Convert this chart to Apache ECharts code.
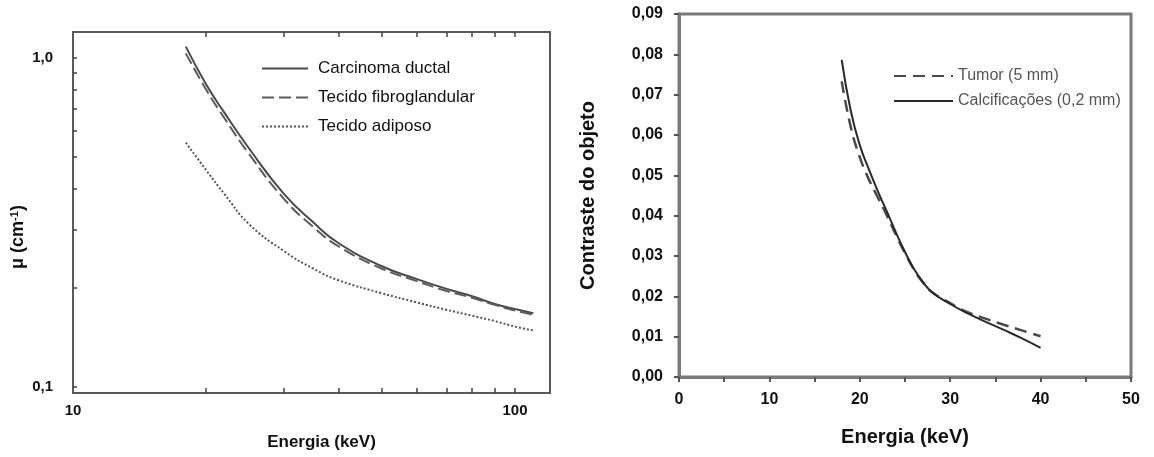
<!DOCTYPE html>
<html>
<head>
<meta charset="utf-8">
<script src="https://cdn.jsdelivr.net/npm/echarts@6/dist/echarts.min.js"></script>
<style>
  html, body { margin: 0; padding: 0; background: #fff; }
  #chart { width: 1154px; height: 457px; }
</style>
</head>
<body>
<div id="chart"></div>
<script>
// grafico da esquerda: coeficiente de atenuacao (escala log)
const energiaEsq = [18, 20, 22, 25, 30, 35, 40, 50, 60, 70, 80, 90, 100, 110];
const carcinoma = [1.08, 0.83, 0.68, 0.53, 0.385, 0.315, 0.272, 0.232, 0.212, 0.198, 0.188, 0.178, 0.172, 0.167];
const fibroglandular = [1.03, 0.80, 0.655, 0.51, 0.372, 0.305, 0.266, 0.228, 0.209, 0.195, 0.186, 0.177, 0.170, 0.165];
const adiposo = [0.551, 0.455, 0.385, 0.312, 0.258, 0.228, 0.210, 0.192, 0.180, 0.171, 0.164, 0.158, 0.152, 0.148];
const muLabels = [0.1, 1];
const muTicks = [0.1, 0.2, 0.3, 0.4, 0.5, 0.6, 0.7, 0.8, 0.9, 1];
const energiaLabelsEsq = [10, 100];
const energiaTicksEsq = [20, 30, 40, 50, 60, 70, 80, 90, 100];

// grafico da direita: contraste do objeto
const energiaDir = [18, 19, 20, 21, 22, 23, 24, 25, 26, 27, 28, 30, 32, 34, 36, 38, 40];
const tumor = [0.0733, 0.062, 0.0545, 0.049, 0.0445, 0.040, 0.0352, 0.0307, 0.0266, 0.0234, 0.021, 0.0183, 0.0160, 0.0144, 0.0129, 0.0115, 0.0101];
const calcificacoes = [0.0786, 0.066, 0.0575, 0.0515, 0.046, 0.041, 0.0358, 0.031, 0.0268, 0.0235, 0.021, 0.0181, 0.0157, 0.0136, 0.0116, 0.0095, 0.0072];

const pares = (xs, ys) => xs.map((x, i) => [x, ys[i]]);
const fontFam = '"Liberation Sans", Arial, sans-serif';

const option = {
  backgroundColor: '#fff',
  animation: false,
  textStyle: { fontFamily: fontFam },
  legend: [{
    orient: 'vertical',
    left: 256,
    top: 55,
    itemWidth: 46,
    itemHeight: 14,
    itemGap: 12,
    itemStyle: { opacity: 0 },
    textStyle: { fontSize: 17, color: '#111', padding: [0, 0, 0, 5] },
    data: ['Carcinoma ductal', 'Tecido fibroglandular', 'Tecido adiposo']
  }, {
    orient: 'vertical',
    left: 888,
    top: 63,
    itemWidth: 59,
    itemHeight: 14,
    itemGap: 9,
    itemStyle: { opacity: 0 },
    textStyle: { fontSize: 16, color: '#555' },
    data: ['Tumor (5 mm)', 'Calcificações (0,2 mm)']
  }],
  grid: [{
    left: 73, right: 604, top: 32, bottom: 64,
    show: true, borderColor: '#5a5a5a', borderWidth: 2,
    outerBoundsMode: 'none'
  }, {
    left: 679, right: 23, top: 14, bottom: 80,
    show: true, borderColor: '#7a7a7a', borderWidth: 3,
    outerBoundsMode: 'none'
  }],
  xAxis: [{
    gridIndex: 0,
    type: 'log',
    min: 10, max: 120,
    name: 'Energia (keV)',
    nameLocation: 'middle',
    nameGap: 41,
    nameTextStyle: { fontSize: 17, fontWeight: 'bold', color: '#111', padding: [0, 0, 0, 20] },
    axisLine: { lineStyle: { color: '#5a5a5a', width: 2 } },
    axisTick: { inside: true, length: 5, customValues: energiaTicksEsq, lineStyle: { color: '#444', width: 1.5 } },
    axisLabel: {
      customValues: energiaLabelsEsq, margin: 10,
      fontSize: 15, fontWeight: 'bold', color: '#111'
    },
    splitLine: { show: false }
  }, {
    gridIndex: 0,
    type: 'log',
    position: 'top',
    min: 10, max: 120,
    axisLine: { show: false },
    axisTick: { inside: true, length: 5, customValues: energiaTicksEsq, lineStyle: { color: '#444', width: 1.5 } },
    axisLabel: { show: false },
    splitLine: { show: false }
  }, {
    gridIndex: 1,
    type: 'value',
    min: 0, max: 50, interval: 10,
    name: 'Energia (keV)',
    nameLocation: 'middle',
    nameGap: 50,
    nameTextStyle: { fontSize: 20, fontWeight: 'bold', color: '#111' },
    axisLine: { lineStyle: { color: '#7a7a7a', width: 3 } },
    axisTick: { length: 5, lineStyle: { color: '#555', width: 2 } },
    minorTick: { show: true, splitNumber: 2, length: 5, lineStyle: { color: '#555', width: 2 } },
    axisLabel: { margin: 15, fontSize: 16, fontWeight: 'bold', color: '#111' },
    splitLine: { show: false }
  }],
  yAxis: [{
    gridIndex: 0,
    type: 'log',
    min: 0.0955, max: 1.196,
    name: '{a|μ (cm}{s|-1}{a|)}',
    nameLocation: 'middle',
    nameGap: 45,
    nameTextStyle: {
      padding: [0, 49, 0, 0],
      rich: {
        a: { fontSize: 18, fontWeight: 'bold', color: '#111' },
        s: { fontSize: 11, fontWeight: 'bold', color: '#111', padding: [0, 0, 8, 0] }
      }
    },
    axisLine: { lineStyle: { color: '#5a5a5a', width: 2 } },
    axisTick: { inside: true, length: 4, customValues: muTicks, lineStyle: { color: '#444', width: 1.5 } },
    axisLabel: {
      customValues: muLabels, margin: 20,
      fontSize: 15, fontWeight: 'bold', color: '#111',
      formatter: v => v.toFixed(1).replace('.', ',')
    },
    splitLine: { show: false }
  }, {
    gridIndex: 1,
    type: 'value',
    min: 0, max: 0.09, interval: 0.01,
    name: 'Contraste do objeto',
    nameLocation: 'middle',
    nameGap: 81,
    nameTextStyle: { fontSize: 20, fontWeight: 'bold', color: '#111' },
    axisLine: { lineStyle: { color: '#7a7a7a', width: 3 } },
    axisTick: { length: 5, lineStyle: { color: '#555', width: 2 } },
    axisLabel: {
      margin: 16, fontSize: 16, fontWeight: 'bold', color: '#111',
      formatter: v => v.toFixed(2).replace('.', ',')
    },
    splitLine: { show: false }
  }],
  series: [{
    name: 'Carcinoma ductal',
    type: 'line', xAxisIndex: 0, yAxisIndex: 0,
    smooth: true, symbol: 'none',
    lineStyle: { color: '#4a4a4a', width: 2 },
    itemStyle: { color: '#4a4a4a' },
    data: pares(energiaEsq, carcinoma)
  }, {
    name: 'Tecido fibroglandular',
    type: 'line', xAxisIndex: 0, yAxisIndex: 0,
    smooth: true, symbol: 'none',
    lineStyle: { color: '#5c5c5c', width: 2, type: [12, 5] },
    itemStyle: { color: '#5c5c5c' },
    data: pares(energiaEsq, fibroglandular)
  }, {
    name: 'Tecido adiposo',
    type: 'line', xAxisIndex: 0, yAxisIndex: 0,
    smooth: true, symbol: 'none',
    lineStyle: { color: '#555', width: 2, type: [2, 2] },
    itemStyle: { color: '#555' },
    data: pares(energiaEsq, adiposo)
  }, {
    name: 'Tumor (5 mm)',
    type: 'line', xAxisIndex: 2, yAxisIndex: 1,
    smooth: true, symbol: 'none',
    lineStyle: { color: '#4a4a4a', width: 2.5, type: [12, 7] },
    itemStyle: { color: '#4a4a4a' },
    data: pares(energiaDir, tumor)
  }, {
    name: 'Calcificações (0,2 mm)',
    type: 'line', xAxisIndex: 2, yAxisIndex: 1,
    smooth: true, symbol: 'none',
    lineStyle: { color: '#2a2a2a', width: 2 },
    itemStyle: { color: '#2a2a2a' },
    data: pares(energiaDir, calcificacoes)
  }]
};

const chart = echarts.init(document.getElementById('chart'), null, { renderer: 'canvas' });
chart.setOption(option);
</script>
</body>
</html>
